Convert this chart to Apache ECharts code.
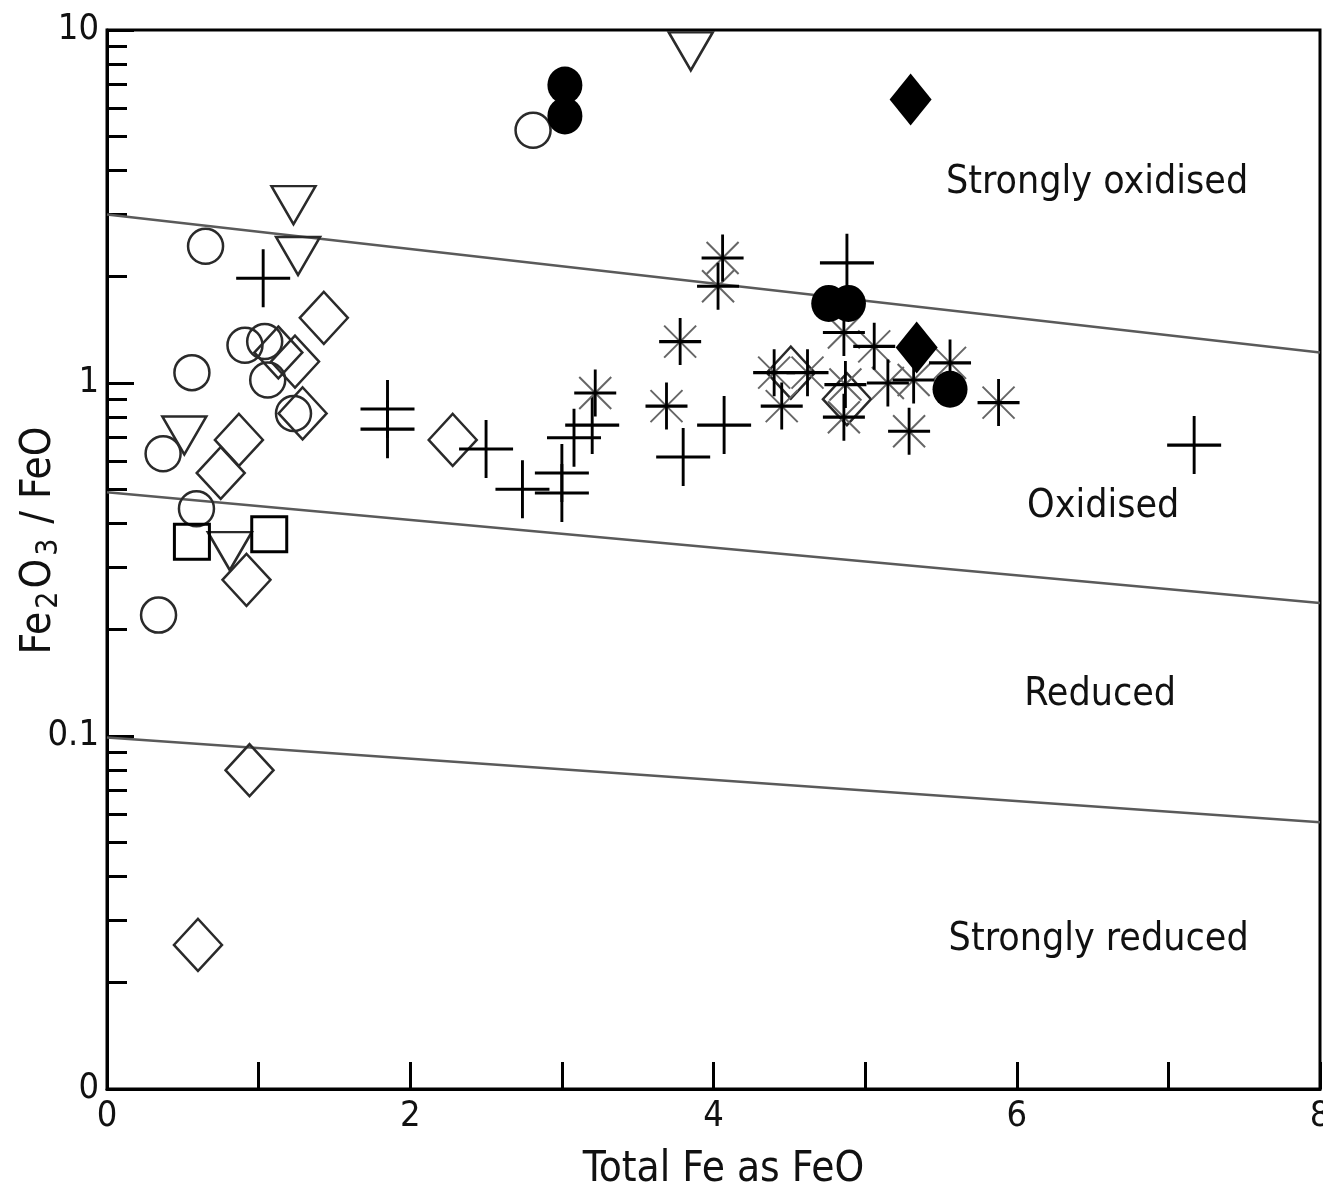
<!DOCTYPE html>
<html>
<head>
<meta charset="utf-8">
<script src="https://cdn.jsdelivr.net/npm/echarts@6/dist/echarts.min.js"></script>
<style>
  html, body { margin: 0; padding: 0; background: #fff; }
  #main { width: 1323px; height: 1193px; }
</style>
</head>
<body>
<div id="main"></div>
<script>
  // data: [Total Fe as FeO, Fe2O3/FeO]
  const openCircles = [[0.65, 2.44], [2.81, 5.2], [0.56, 1.07], [0.91, 1.28], [1.04, 1.31], [1.06, 1.02],
    [1.23, 0.82], [0.37, 0.63], [0.59, 0.44], [0.34, 0.22]];
  const openTriangles = [[3.85, 8.7], [1.23, 3.19], [1.26, 2.29], [0.51, 0.71], [0.81, 0.334]];
  const openDiamonds = [[1.43, 1.53], [1.13, 1.22], [1.24, 1.15], [1.29, 0.82], [0.87, 0.69], [0.75, 0.556],
    [0.92, 0.277], [0.94, 0.080], [0.60, 0.0256], [2.28, 0.69], [4.51, 1.07], [4.88, 0.90]];
  const openSquares = [[0.56, 0.355], [1.07, 0.373]];
  const pluses = [[1.03, 1.98], [1.85, 0.844], [1.85, 0.74], [2.50, 0.65], [2.74, 0.50], [3.00, 0.556],
    [3.00, 0.488], [3.08, 0.70], [3.20, 0.76], [3.80, 0.617], [4.07, 0.76], [4.88, 2.19], [7.17, 0.667]];
  const asterisks = [[4.06, 2.26], [4.03, 1.88], [3.22, 0.937], [3.78, 1.31], [3.69, 0.86], [4.40, 1.07],
    [4.62, 1.07], [4.45, 0.86], [4.87, 0.99], [4.86, 0.80], [4.86, 1.39], [5.06, 1.27], [5.15, 1.0],
    [5.32, 1.02], [5.56, 1.14], [5.29, 0.73], [5.88, 0.88]];
  const filledCircles = [[3.02, 6.98], [3.02, 5.71], [4.76, 1.68], [4.89, 1.68], [5.56, 0.96]];
  const filledDiamonds = [[5.30, 6.35], [5.34, 1.26]];

  // boundary lines between redox fields
  const lineStrongOx = [[0, 3.0], [8, 1.22]];
  const lineOx = [[0, 0.49], [8, 0.238]];
  const lineRed = [[0, 0.099], [8, 0.057]];

  const fieldNames = ['Strongly oxidised', 'Oxidised', 'Reduced', 'Strongly reduced'];
  const fieldPos = [[6.53, 3.69], [6.57, 0.445], [6.55, 0.131], [6.54, 0.0264]];

  const minorTicks = [0.02, 0.03, 0.04, 0.05, 0.06, 0.07, 0.08, 0.09,
    0.2, 0.3, 0.4, 0.5, 0.6, 0.7, 0.8, 0.9, 2, 3, 4, 5, 6, 7, 8, 9];

  const font = "'Liberation Sans Narrow', 'Arial Narrow', 'DejaVu Sans Condensed', sans-serif";
  const plusPath = 'path://M50,0L50,100M0,50L100,50';
  const xPath = 'path://M0,0L100,100M100,0L0,100';

  function openSeries(data, symbol, size, extra) {
    return Object.assign({
      type: 'scatter', data: data, symbol: symbol, symbolSize: size,
      itemStyle: { color: 'rgba(0,0,0,0)', borderColor: '#2a2a2a', borderWidth: 2.5, opacity: 1 },
      emphasis: { disabled: true }, z: 3
    }, extra || {});
  }

  const chart = echarts.init(document.getElementById('main'));
  const option = {
    backgroundColor: '#fff',
    animation: false,
    grid: {
      left: 107, right: 3, top: 30, bottom: 104, outerBoundsMode: 'none', containLabel: false,
      show: true, borderColor: '#000', borderWidth: 3
    },
    xAxis: {
      type: 'value', min: 0, max: 8, interval: 1,
      name: 'Total Fe as FeO', nameLocation: 'middle', nameGap: 60, nameMoveOverlap: false,
      nameTextStyle: { fontSize: 42, fontFamily: font, color: '#111', padding: [0, 0, 0, 20] },
      axisLine: { lineStyle: { color: '#000', width: 3 } },
      axisTick: { inside: true, length: 27, lineStyle: { color: '#000', width: 3 } },
      axisLabel: {
        fontSize: 36, fontFamily: font, color: '#111', margin: 10,
        formatter: v => (v % 2 === 0 ? String(v) : '')
      },
      splitLine: { show: false }
    },
    yAxis: [{
      type: 'log', logBase: 10, min: 0.01, max: 10,
      name: 'Fe{s|2}O{s|3} / FeO', nameLocation: 'middle', nameRotate: 90, nameGap: 47,
      nameMoveOverlap: false,
      nameTextStyle: {
        fontSize: 42, fontFamily: font, color: '#111', padding: [0, 0, 0, 38],
        rich: { s: { fontSize: 30, lineHeight: 30, fontFamily: font, color: '#111', padding: [20, 3, 0, 3] } }
      },
      axisLine: { lineStyle: { color: '#000', width: 3 } },
      axisTick: { inside: true, length: 27, lineStyle: { color: '#000', width: 3 } },
      axisLabel: {
        fontSize: 36, fontFamily: font, color: '#111', margin: 8,
        formatter: v => (v < 0.015 ? '0' : String(v))
      },
      splitLine: { show: false }
    }, {
      type: 'log', logBase: 10, min: 0.01, max: 10, position: 'left',
      axisLine: { show: false },
      axisTick: { inside: true, length: 20, customValues: minorTicks, lineStyle: { color: '#000', width: 3 } },
      axisLabel: { show: false },
      splitLine: { show: false }
    }],
    series: [
      ...[lineStrongOx, lineOx, lineRed].map(d => ({
        type: 'line', data: d, symbol: 'none', z: 1,
        lineStyle: { color: '#5a5a5a', width: 2.5 }, emphasis: { disabled: true }
      })),
      openSeries(openCircles, 'circle', 35),
      openSeries(openTriangles, 'triangle', [44, 38], { symbolRotate: 180 }),
      openSeries(openDiamonds, 'diamond', [48, 52]),
      openSeries(openSquares, 'rect', 35, { itemStyle: { color: 'rgba(0,0,0,0)', borderColor: '#000', borderWidth: 3, opacity: 1 } }),
      openSeries(pluses, plusPath, [54, 58], { itemStyle: { color: 'rgba(0,0,0,0)', borderColor: '#000', borderWidth: 3, opacity: 1 } }),
      openSeries(asterisks, xPath, [32, 32], { itemStyle: { color: 'rgba(0,0,0,0)', borderColor: '#666', borderWidth: 2, opacity: 1 } }),
      openSeries(asterisks, plusPath, [42, 47], { itemStyle: { color: 'rgba(0,0,0,0)', borderColor: '#000', borderWidth: 3, opacity: 1 } }),
      {
        type: 'scatter', data: filledCircles, symbol: 'circle', symbolSize: [35, 37], z: 4,
        itemStyle: { color: '#000', opacity: 1 }, emphasis: { disabled: true }
      },
      {
        type: 'scatter', data: filledDiamonds, symbol: 'diamond', symbolSize: [42, 52], z: 4,
        itemStyle: { color: '#000', opacity: 1 }, emphasis: { disabled: true }
      },
      {
        type: 'scatter', symbolSize: 0, z: 5, silent: true,
        itemStyle: { opacity: 1 },
        data: fieldNames.map((n, i) => ({ name: n, value: fieldPos[i] })),
        label: {
          show: true, position: 'inside', formatter: p => p.name,
          fontSize: 39, fontFamily: font, color: '#111'
        }
      }
    ]
  };
  chart.setOption(option);
</script>
</body>
</html>
